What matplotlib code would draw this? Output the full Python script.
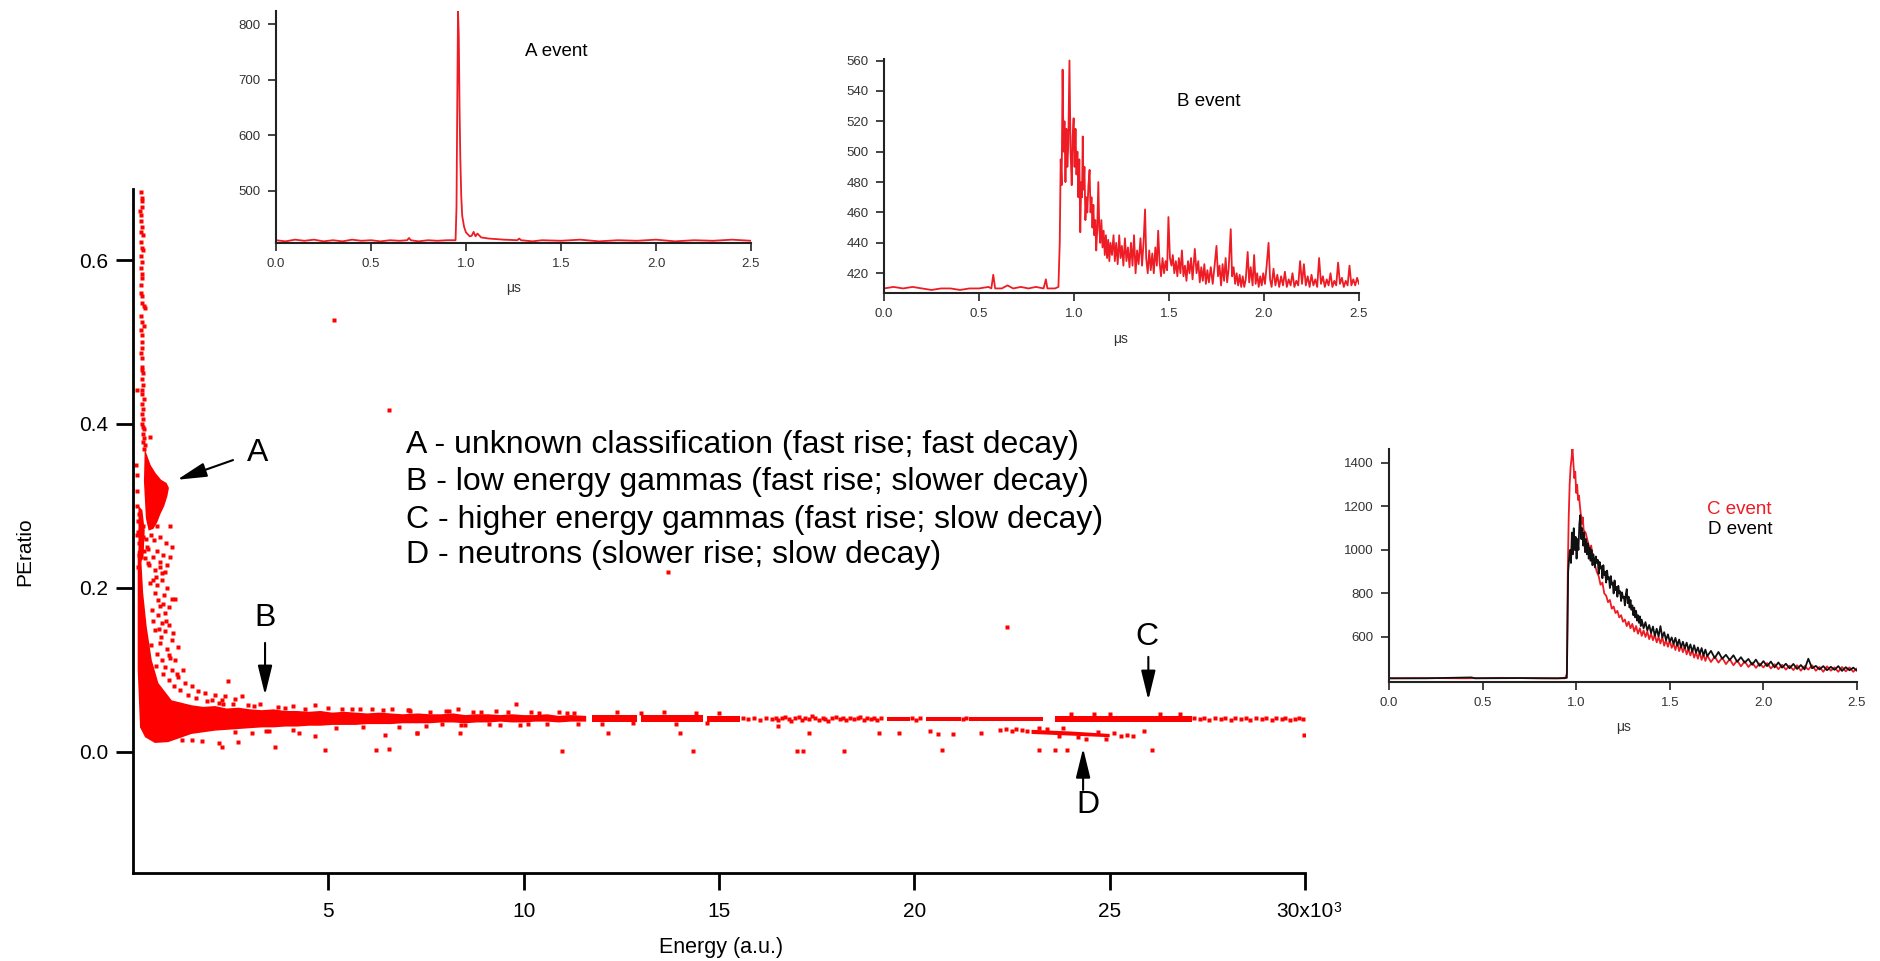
import matplotlib
matplotlib.use('Agg')
import matplotlib.pyplot as plt

plt.rcParams['font.family'] = ['Liberation Sans', 'DejaVu Sans']

W, H = 1881, 961

# ---- main scatter: energy in units of 10^3, PE ratio ----
# dense clouds read off as outlines
knee_x = [0.12, 0.20, 0.26, 0.35, 0.48, 0.65, 0.99, 1.5, 1.8, 2.1, 2.4, 2.7, 3.0, 3.3, 3.6, 3.9,
          4.2, 4.5, 4.8, 5.1, 5.4, 5.7, 6.0, 6.3, 6.6, 6.9, 7.3, 7.6, 7.9, 8.2, 8.5, 8.8, 9.1,
          9.4, 9.7, 10.0, 10.3, 10.6, 10.9, 11.2, 11.6,
          11.6, 11.2, 10.9, 10.6, 10.3, 10.0, 9.7, 9.4, 9.1, 8.8, 8.5, 8.2, 7.9, 7.6, 7.3, 6.9,
          6.6, 6.3, 6.0, 5.7, 5.4, 5.1, 4.8, 4.5, 4.2, 3.9, 3.6, 3.3, 3.0, 2.7, 2.4, 2.1, 1.8,
          1.5, 0.9, 0.56, 0.31, 0.18, 0.12]
knee_y = [0.245, 0.245, 0.194, 0.153, 0.112, 0.084, 0.063, 0.057, 0.055, 0.056, 0.053, 0.054,
          0.052, 0.051, 0.052, 0.050, 0.050, 0.049, 0.050, 0.048, 0.049, 0.048, 0.047, 0.048,
          0.047, 0.046, 0.047, 0.046, 0.046, 0.047, 0.045, 0.046, 0.046, 0.045, 0.046, 0.045,
          0.045, 0.046, 0.044, 0.045, 0.044,
          0.037, 0.037, 0.036, 0.037, 0.037, 0.036, 0.036, 0.037, 0.036, 0.036, 0.035, 0.036,
          0.036, 0.035, 0.035, 0.035, 0.034, 0.034, 0.034, 0.033, 0.033, 0.033, 0.032, 0.032,
          0.031, 0.031, 0.030, 0.030, 0.029, 0.028, 0.027, 0.026, 0.024, 0.022, 0.012, 0.011,
          0.018, 0.030, 0.100]
a_x = [0.30, 0.36, 0.45, 0.58, 0.72, 0.86, 0.92, 0.88, 0.80, 0.70, 0.62, 0.52, 0.40, 0.33, 0.28]
a_y = [0.370, 0.362, 0.350, 0.340, 0.332, 0.328, 0.322, 0.312, 0.300, 0.290, 0.280, 0.272, 0.270, 0.285, 0.330]
col_x = [0.14, 0.24, 0.30, 0.27, 0.20, 0.14]
col_y = [0.300, 0.295, 0.270, 0.240, 0.230, 0.235]
d_x = [23.0, 24.0, 25.0, 25.0, 24.0, 23.0]
d_y = [0.027, 0.025, 0.022, 0.018, 0.020, 0.022]
# continuous stretches of the gamma band: start, end, low, high
band_start = [11.75, 13.0, 14.7, 19.3, 20.3, 21.4, 23.6]
band_end = [12.9, 14.6, 15.55, 19.9, 21.2, 23.3, 27.1]
band_low = [0.037, 0.037, 0.037, 0.038, 0.038, 0.038, 0.037]
band_high = [0.045, 0.045, 0.044, 0.043, 0.043, 0.043, 0.044]

trail_x = [0.20, 0.22, 0.24, 0.19, 0.21, 0.20, 0.23, 0.21, 0.25, 0.20, 0.22, 0.21, 0.24, 0.20,
           0.22, 0.23, 0.21, 0.20, 0.24, 0.22, 0.27, 0.30, 0.21, 0.22, 0.21, 0.23, 0.22, 0.24,
           0.21, 0.23, 0.22, 0.25, 0.23, 0.26, 0.22, 0.24, 0.27, 0.23, 0.25, 0.22, 0.26, 0.24,
           0.27, 0.25, 0.28, 0.26, 0.30, 0.27, 0.43, 0.24, 0.26, 0.28, 0.23, 0.25,
           0.10, 0.08, 0.11, 0.09, 0.10, 0.12, 0.10]
trail_y = [0.683, 0.676, 0.672, 0.660, 0.655, 0.648, 0.640, 0.634, 0.630, 0.622, 0.615, 0.605,
           0.598, 0.590, 0.583, 0.578, 0.570, 0.560, 0.556, 0.548, 0.544, 0.541, 0.532, 0.525,
           0.515, 0.508, 0.500, 0.493, 0.486, 0.480, 0.470, 0.462, 0.455, 0.447, 0.442, 0.436,
           0.430, 0.424, 0.418, 0.412, 0.406, 0.400, 0.394, 0.388, 0.383, 0.378, 0.374, 0.370,
           0.384, 0.665, 0.612, 0.520, 0.466, 0.396,
           0.442, 0.350, 0.338, 0.318, 0.300, 0.282, 0.265]

spread_x = [0.39, 0.56, 0.69, 0.82, 0.44, 0.61, 0.74, 0.86, 0.56, 0.65, 0.99, 1.08, 0.78, 0.91,
            0.48, 0.65, 0.82, 0.74, 0.91, 0.56, 0.82, 0.99, 1.16, 0.69, 0.61, 0.91, 0.74, 1.08,
            0.82, 0.99, 1.29, 1.16, 0.91, 1.33, 1.50, 1.67, 1.85, 2.10, 2.36, 2.44, 2.79, 3.26,
            4.67, 5.35, 6.12, 6.63, 7.06, 2.02, 2.27, 2.62,
            1.25, 1.50, 1.76, 2.19, 2.27, 2.70, 3.04, 3.47, 3.64, 4.24, 4.67, 4.92, 6.21, 6.55,
            6.46, 7.27,
            0.14, 0.25, 0.45, 0.55, 0.70, 0.85, 0.20, 0.38, 0.62, 0.78, 0.95, 0.15, 0.30, 0.50,
            0.88, 0.68, 0.12, 0.42, 0.60, 0.75, 1.00, 0.95, 0.50, 0.62, 0.15, 0.17, 0.19, 0.16,
            0.18, 0.21, 0.26, 0.33, 0.35, 0.29, 0.52, 0.72, 0.47, 0.58,
            0.52, 0.71, 0.88, 0.47, 0.77, 0.60, 1.04, 0.85, 0.70, 0.52, 0.95, 1.12, 0.80, 0.66,
            1.20, 1.02, 1.40, 1.60, 1.90, 2.20, 2.55, 2.95, 3.70, 4.10, 5.00, 5.80,
            2.3, 3.1, 3.9, 4.4, 5.6, 6.4, 7.1, 8.0, 8.9, 9.6, 10.4, 11.1,
            2.6, 3.4, 4.1, 5.2, 5.9, 6.8, 7.5, 8.4, 9.4, 10.1, 11.4]
spread_y = [0.230, 0.222, 0.226, 0.220, 0.206, 0.204, 0.210, 0.200, 0.194, 0.185, 0.187, 0.186,
            0.181, 0.177, 0.173, 0.167, 0.169, 0.157, 0.155, 0.149, 0.147, 0.137, 0.128, 0.133,
            0.120, 0.118, 0.112, 0.112, 0.104, 0.100, 0.100, 0.092, 0.088, 0.084, 0.080, 0.074,
            0.072, 0.070, 0.068, 0.086, 0.068, 0.059, 0.057, 0.053, 0.052, 0.052, 0.051, 0.063,
            0.063, 0.065,
            0.015, 0.015, 0.013, 0.011, 0.006, 0.012, 0.023, 0.025, 0.006, 0.023, 0.019, 0.002,
            0.003, 0.004, 0.021, 0.023,
            0.268, 0.262, 0.265, 0.258, 0.262, 0.255, 0.250, 0.248, 0.245, 0.240, 0.238, 0.240,
            0.236, 0.238, 0.228, 0.232, 0.226, 0.228, 0.214, 0.218, 0.250, 0.275, 0.282, 0.276,
            0.290, 0.280, 0.270, 0.255, 0.245, 0.238, 0.275, 0.260, 0.250, 0.245, 0.300, 0.305,
            0.292, 0.296,
            0.160, 0.140, 0.125, 0.130, 0.095, 0.105, 0.080, 0.160, 0.178, 0.210, 0.115, 0.095,
            0.192, 0.150, 0.075, 0.145, 0.070, 0.066, 0.062, 0.060, 0.058, 0.057, 0.055, 0.056,
            0.054, 0.052,
            0.059, 0.056, 0.054, 0.053, 0.052, 0.051, 0.050, 0.050, 0.049, 0.049, 0.048, 0.048,
            0.024, 0.026, 0.027, 0.029, 0.030, 0.031, 0.032, 0.033, 0.033, 0.034, 0.034]

# dotted parts of the band and the faint neutron band ends
dots_x = [15.62, 15.75, 15.9, 16.05, 16.2, 16.35, 16.45, 16.52, 16.6, 16.7, 16.78, 16.85, 16.95,
          17.05, 17.12, 17.2, 17.3, 17.38, 17.45, 17.55, 17.65, 17.72, 17.8, 17.9, 18.0, 18.1,
          18.18, 18.25, 18.35, 18.45, 18.55, 18.62, 18.7, 18.8, 18.9, 18.98, 19.05, 19.15,
          19.95, 20.05, 20.15, 21.25, 21.33,
          27.15, 27.3, 27.42, 27.55, 27.7, 27.85, 27.95, 28.1, 28.2, 28.35, 28.5, 28.6, 28.75,
          28.9, 29.0, 29.15, 29.25, 29.4, 29.5, 29.62, 29.75, 29.85, 29.95,
          22.2, 22.35, 22.5, 22.6, 22.75, 22.88, 25.1, 25.3, 25.45,
          7.6, 8.1, 8.7, 9.3, 10.2, 10.9, 11.3, 12.4, 13.0, 13.6, 14.4, 15.0,
          7.9, 8.5, 9.1, 9.9, 10.6, 12.0, 12.8, 13.9, 14.7,
          24.0, 24.6, 25.0, 26.3, 26.8, 23.8, 24.4, 23.4, 24.9, 23.2, 23.7, 24.2, 24.7]
dots_y = [0.041, 0.040, 0.042, 0.039, 0.041, 0.040, 0.042, 0.039, 0.041, 0.043, 0.040, 0.038,
          0.041, 0.043, 0.039, 0.041, 0.040, 0.044, 0.041, 0.039, 0.042, 0.040, 0.038, 0.041,
          0.043, 0.040, 0.041, 0.039, 0.042, 0.040, 0.041, 0.043, 0.039, 0.041, 0.040, 0.042,
          0.039, 0.041,
          0.041, 0.039, 0.042, 0.040, 0.042,
          0.041, 0.040, 0.042, 0.039, 0.041, 0.040, 0.042, 0.039, 0.041, 0.040, 0.042, 0.039,
          0.041, 0.040, 0.042, 0.039, 0.041, 0.040, 0.042, 0.039, 0.040, 0.041, 0.040,
          0.027, 0.028, 0.026, 0.028, 0.027, 0.025, 0.023, 0.020, 0.021,
          0.049, 0.050, 0.049, 0.050, 0.049, 0.049, 0.048, 0.049, 0.048, 0.049, 0.048, 0.048,
          0.034, 0.033, 0.034, 0.033, 0.034, 0.034, 0.035, 0.034, 0.035,
          0.046, 0.046, 0.046, 0.046, 0.046, 0.029, 0.016, 0.028, 0.016, 0.029, 0.019, 0.018,
          0.024]

outlier_x = [5.15, 6.55, 13.7, 22.37, 9.8, 7.05, 8.33, 7.26, 8.38, 12.15, 14.0, 16.5, 17.3, 19.1,
             10.97, 14.33, 17.0, 17.15, 18.2, 19.6, 20.4, 20.6, 21.0, 21.7, 29.98, 25.89, 25.6,
             20.7, 23.2, 23.6, 23.9, 26.08]
outlier_y = [0.527, 0.417, 0.219, 0.153, 0.059, 0.051, 0.052, 0.023, 0.023, 0.023, 0.023, 0.032,
             0.023, 0.023, 0.001, 0.001, 0.001, 0.001, 0.001, 0.023, 0.026, 0.022, 0.022, 0.023,
             0.021, 0.025, 0.019, 0.002, 0.002, 0.002, 0.002, 0.002]

# ---- waveforms (time in us, amplitude) ----
a_event = [(0.0, 411), (0.05, 409), (0.1, 412), (0.15, 410), (0.2, 412), (0.25, 409), (0.3, 411),
           (0.35, 409), (0.4, 412), (0.45, 410), (0.5, 411), (0.55, 409), (0.6, 411), (0.65, 410),
           (0.69, 411), (0.70, 415), (0.71, 411), (0.75, 409), (0.8, 411), (0.85, 410), (0.9, 411),
           (0.945, 411), (0.95, 470), (0.955, 700), (0.958, 824), (0.962, 780), (0.966, 650),
           (0.97, 560), (0.975, 490), (0.98, 455), (0.99, 435), (1.0, 425), (1.02, 418), (1.03, 419),
           (1.04, 426), (1.05, 418), (1.06, 423), (1.08, 416), (1.12, 414), (1.2, 412), (1.27, 411),
           (1.28, 414), (1.29, 411), (1.35, 409), (1.4, 411), (1.5, 410), (1.6, 412), (1.7, 409),
           (1.8, 411), (1.9, 410), (2.0, 412), (2.1, 409), (2.2, 411), (2.3, 410), (2.4, 412), (2.5, 410)]

b_event = [(0.0, 410), (0.05, 411), (0.1, 410), (0.15, 411), (0.2, 410), (0.25, 409), (0.3, 410),
           (0.35, 410), (0.4, 409), (0.45, 410), (0.5, 410), (0.55, 411), (0.565, 410), (0.575, 419),
           (0.585, 410), (0.62, 410), (0.65, 412), (0.68, 410), (0.72, 411), (0.76, 410), (0.8, 411),
           (0.84, 410), (0.852, 416), (0.86, 410), (0.9, 410), (0.918, 411), (0.925, 440), (0.93, 495),
           (0.935, 478), (0.94, 554), (0.945, 500), (0.95, 520), (0.955, 480), (0.96, 515), (0.965, 490),
           (0.97, 505), (0.976, 560), (0.982, 500), (0.988, 478), (0.993, 510), (0.998, 522),
           (1.003, 490), (1.008, 515), (1.013, 485), (1.018, 500), (1.023, 470), (1.028, 495),
           (1.033, 447), (1.038, 480), (1.042, 470), (1.046, 510), (1.05, 475), (1.055, 490),
           (1.06, 455), (1.065, 470), (1.07, 460), (1.076, 478), (1.082, 488), (1.087, 460),
           (1.092, 470), (1.097, 450), (1.102, 465), (1.107, 445), (1.112, 455), (1.117, 435),
           (1.122, 448), (1.128, 480), (1.133, 450), (1.138, 440), (1.144, 455), (1.15, 437),
           (1.156, 448), (1.162, 432), (1.168, 445), (1.174, 430), (1.18, 442), (1.186, 428),
           (1.192, 440), (1.2, 432), (1.208, 445), (1.215, 428), (1.222, 440), (1.23, 426),
           (1.238, 445), (1.245, 430), (1.252, 438), (1.26, 425), (1.268, 443), (1.276, 428),
           (1.284, 437), (1.292, 424), (1.3, 440), (1.308, 425), (1.316, 445), (1.324, 420),
           (1.332, 435), (1.34, 426), (1.35, 443), (1.358, 425), (1.366, 440), (1.374, 462),
           (1.38, 430), (1.388, 420), (1.396, 435), (1.404, 422), (1.412, 433), (1.42, 420),
           (1.428, 437), (1.436, 425), (1.443, 448), (1.45, 428), (1.458, 418), (1.466, 430),
           (1.474, 420), (1.482, 428), (1.49, 422), (1.497, 457), (1.505, 430), (1.513, 425),
           (1.52, 432), (1.528, 420), (1.536, 428), (1.544, 418), (1.552, 430), (1.56, 420),
           (1.568, 435), (1.576, 418), (1.584, 425), (1.592, 415), (1.6, 428), (1.608, 420),
           (1.616, 430), (1.624, 416), (1.636, 436), (1.645, 420), (1.654, 428), (1.662, 414),
           (1.67, 424), (1.678, 415), (1.686, 426), (1.694, 413), (1.702, 422), (1.71, 414),
           (1.72, 424), (1.73, 413), (1.74, 425), (1.75, 438), (1.758, 418), (1.766, 425),
           (1.774, 412), (1.782, 426), (1.79, 415), (1.798, 430), (1.806, 414), (1.814, 423),
           (1.825, 449), (1.832, 418), (1.84, 424), (1.848, 413), (1.856, 420), (1.864, 412),
           (1.872, 419), (1.88, 411), (1.888, 418), (1.896, 411), (1.904, 416), (1.914, 434),
           (1.922, 414), (1.93, 424), (1.94, 412), (1.948, 432), (1.956, 413), (1.964, 420),
           (1.972, 411), (1.98, 418), (1.988, 412), (1.996, 420), (2.005, 413), (2.014, 425),
           (2.024, 440), (2.032, 416), (2.04, 411), (2.05, 423), (2.06, 412), (2.07, 419),
           (2.08, 411), (2.09, 418), (2.1, 412), (2.11, 421), (2.12, 411), (2.13, 416), (2.14, 412),
           (2.15, 420), (2.16, 411), (2.17, 415), (2.18, 412), (2.19, 428), (2.2, 413), (2.21, 426),
           (2.22, 412), (2.23, 418), (2.24, 411), (2.25, 419), (2.26, 412), (2.27, 416), (2.28, 411),
           (2.29, 430), (2.3, 413), (2.31, 418), (2.32, 411), (2.33, 416), (2.34, 412), (2.35, 420),
           (2.36, 411), (2.37, 415), (2.38, 412), (2.39, 427), (2.4, 413), (2.41, 417), (2.42, 411),
           (2.43, 415), (2.44, 412), (2.45, 425), (2.46, 412), (2.47, 416), (2.48, 412), (2.49, 417),
           (2.5, 413)]

c_event = [(0.0, 410), (0.2, 411), (0.4, 410), (0.6, 412), (0.8, 410), (0.94, 410), (0.95, 430),
           (0.955, 900), (0.96, 1150), (0.965, 1300), (0.97, 1380), (0.975, 1420), (0.98, 1469),
           (0.985, 1400), (0.99, 1330), (0.995, 1360), (1.0, 1262), (1.005, 1300), (1.01, 1230),
           (1.015, 1250), (1.02, 1200), (1.03, 1120), (1.035, 1150), (1.04, 1090), (1.05, 1080),
           (1.06, 1046), (1.07, 1010), (1.08, 1020), (1.09, 960), (1.1, 930), (1.11, 900), (1.12, 880),
           (1.13, 840), (1.14, 850), (1.15, 800), (1.16, 790), (1.17, 760), (1.18, 770), (1.19, 730),
           (1.2, 740), (1.21, 710), (1.22, 720), (1.23, 690), (1.24, 700), (1.25, 670), (1.26, 680),
           (1.27, 650), (1.28, 670), (1.29, 640), (1.3, 660), (1.31, 625), (1.32, 650), (1.33, 615),
           (1.34, 640), (1.35, 605), (1.36, 630), (1.37, 600), (1.38, 625), (1.39, 590), (1.4, 615),
           (1.41, 585), (1.42, 610), (1.43, 575), (1.44, 600), (1.45, 570), (1.46, 600), (1.47, 560),
           (1.48, 585), (1.49, 555), (1.5, 585), (1.51, 550), (1.52, 570), (1.53, 540), (1.54, 575),
           (1.55, 535), (1.56, 560), (1.57, 530), (1.58, 555), (1.59, 520), (1.6, 545), (1.61, 515),
           (1.62, 540), (1.63, 505), (1.64, 530), (1.65, 500), (1.66, 530), (1.67, 495), (1.68, 520),
           (1.69, 490), (1.7, 515), (1.72, 485), (1.74, 510), (1.76, 482), (1.78, 505), (1.8, 475),
           (1.82, 498), (1.84, 470), (1.86, 492), (1.88, 465), (1.9, 488), (1.92, 462), (1.94, 482),
           (1.96, 458), (1.98, 478), (2.0, 460), (2.02, 480), (2.04, 455), (2.06, 475), (2.08, 452),
           (2.1, 472), (2.12, 450), (2.14, 468), (2.16, 448), (2.18, 470), (2.2, 445), (2.22, 466),
           (2.24, 450), (2.26, 470), (2.28, 445), (2.3, 462), (2.32, 440), (2.34, 465), (2.36, 445),
           (2.38, 460), (2.4, 440), (2.42, 462), (2.44, 442), (2.46, 460), (2.48, 440), (2.5, 455)]

d_event = [(0.0, 410), (0.2, 410), (0.44, 414), (0.46, 410), (0.7, 411), (0.9, 410), (0.95, 412),
           (0.953, 600), (0.957, 900), (0.962, 960), (0.967, 1000), (0.972, 940), (0.977, 1080),
           (0.982, 980), (0.987, 1100), (0.992, 1000), (0.997, 1060), (1.002, 960), (1.007, 1050),
           (1.012, 1000), (1.017, 1120), (1.022, 1160), (1.027, 1050), (1.032, 1100), (1.037, 1020),
           (1.042, 1080), (1.047, 990), (1.052, 1050), (1.057, 980), (1.062, 1030), (1.067, 960),
           (1.072, 1010), (1.077, 950), (1.082, 1000), (1.087, 930), (1.092, 980), (1.1, 920),
           (1.105, 970), (1.11, 940), (1.115, 955), (1.12, 890), (1.125, 945), (1.13, 915),
           (1.135, 925), (1.14, 870), (1.145, 930), (1.15, 885), (1.155, 900), (1.16, 850),
           (1.165, 905), (1.17, 865), (1.175, 875), (1.18, 825), (1.185, 880), (1.19, 840),
           (1.195, 850), (1.2, 800), (1.205, 860), (1.21, 815), (1.215, 830), (1.22, 785),
           (1.225, 835), (1.23, 800), (1.235, 810), (1.24, 765), (1.245, 805), (1.25, 780),
           (1.255, 785), (1.26, 745), (1.265, 795), (1.27, 820), (1.275, 755), (1.28, 785),
           (1.285, 735), (1.29, 770), (1.295, 725), (1.3, 745), (1.305, 700), (1.31, 735),
           (1.315, 690), (1.32, 720), (1.325, 675), (1.33, 700), (1.335, 665), (1.34, 695),
           (1.345, 650), (1.35, 680), (1.36, 640), (1.37, 668), (1.38, 630), (1.39, 655), (1.4, 618),
           (1.41, 648), (1.42, 605), (1.43, 638), (1.44, 602), (1.45, 650), (1.46, 598), (1.47, 622),
           (1.48, 585), (1.49, 612), (1.5, 578), (1.51, 598), (1.52, 568), (1.53, 596), (1.54, 560),
           (1.55, 588), (1.56, 552), (1.57, 578), (1.58, 548), (1.59, 574), (1.6, 540), (1.61, 566),
           (1.62, 532), (1.63, 562), (1.64, 528), (1.65, 552), (1.66, 522), (1.67, 549), (1.68, 514),
           (1.69, 542), (1.7, 512), (1.72, 536), (1.74, 503), (1.76, 531), (1.78, 500), (1.8, 518),
           (1.82, 494), (1.84, 516), (1.86, 486), (1.88, 507), (1.9, 482), (1.92, 499), (1.94, 472),
           (1.96, 496), (1.98, 467), (2.0, 489), (2.02, 466), (2.04, 487), (2.06, 460), (2.08, 483),
           (2.1, 459), (2.12, 477), (2.14, 456), (2.16, 476), (2.18, 453), (2.2, 471), (2.22, 451),
           (2.24, 500), (2.26, 456), (2.28, 467), (2.3, 451), (2.32, 466), (2.34, 447), (2.36, 463),
           (2.38, 449), (2.4, 466), (2.42, 444), (2.44, 461), (2.46, 447), (2.48, 459), (2.5, 445)]

legend_lines = ['A - unknown classification (fast rise; fast decay)',
                'B - low energy gammas (fast rise; slower decay)',
                'C - higher energy gammas (fast rise; slow decay)',
                'D - neutrons (slower rise; slow decay)']


def rect(left, top, right, bottom):
    return [left / W, 1 - bottom / H, (right - left) / W, (bottom - top) / H]


fig = plt.figure(figsize=(W / 100, H / 100), dpi=100)

# main scatter
ax = fig.add_axes(rect(133, 189, 1305, 873))
red = '#ff0000'
for px, py in [(knee_x, knee_y), (a_x, a_y), (col_x, col_y), (d_x, d_y)]:
    ax.fill(px, py, color=red, lw=0)
for x0, x1, lo, hi in zip(band_start, band_end, band_low, band_high):
    ax.fill_between([x0, x1], [lo, lo], [hi, hi], color=red, lw=0)
for xs, ys in [(trail_x, trail_y), (spread_x, spread_y), (dots_x, dots_y), (outlier_x, outlier_y)]:
    ax.plot(xs, ys, 's', ms=2.3, color=red, mec='none')

ax.set_xlim(0, 30)
ax.set_ylim(-0.1476, 0.6866)
for s in ['top', 'right']:
    ax.spines[s].set_visible(False)
for s in ['left', 'bottom']:
    ax.spines[s].set_linewidth(2)
ax.set_xticks([5, 10, 15, 20, 25, 30])
ax.set_xticklabels(['5', '10', '15', '20', '25', '30x10'])
ax.set_yticks([0.0, 0.2, 0.4, 0.6])
ax.set_yticklabels(['0.0', '0.2', '0.4', '0.6'])
ax.tick_params(direction='out', length=12, width=2, labelsize=15)
ax.tick_params(axis='x', pad=9)
ax.tick_params(axis='y', pad=6)
ax.annotate('3', xy=(30, 0), xycoords=('data', 'axes fraction'), xytext=(32, -35),
            textcoords='offset pixels', fontsize=10, ha='center', va='center')
fig.text(25 / W, 1 - 552 / H, 'PEratio', rotation=90, fontsize=15, ha='center', va='center')
fig.text(721 / W, 1 - 947 / H, 'Energy (a.u.)', fontsize=15.5, ha='center', va='center')

arrow = dict(arrowstyle='-|>,head_length=0.9,head_width=0.22', mutation_scale=20,
             lw=1.5, color='black', shrinkA=0, shrinkB=0)
ax.annotate('', xy=(1.13, 0.332), xytext=(2.56, 0.356), arrowprops=arrow)
ax.annotate('', xy=(3.38, 0.0695), xytext=(3.38, 0.133), arrowprops=arrow)
ax.annotate('', xy=(25.99, 0.0634), xytext=(25.99, 0.116), arrowprops=arrow)
ax.annotate('', xy=(24.32, 0.0045), xytext=(24.32, -0.0463), arrowprops=arrow)
for lab, lx, ly in [('A', 3.2, 0.365), ('B', 3.38, 0.163), ('C', 25.96, 0.1406), ('D', 24.44, -0.0646)]:
    ax.text(lx, ly, lab, fontsize=23, ha='center', va='center')

for line, base in zip(legend_lines, [453, 490, 528, 563]):
    fig.text(406 / W, 1 - base / H, line, fontsize=23, ha='left', va='baseline')


# waveform insets
def inset(box, ylim, yticks, series, mu_pos):
    iax = fig.add_axes(rect(*box))
    iax.patch.set_alpha(0)
    for data, col in series:
        t = [p[0] for p in data]
        v = [p[1] for p in data]
        iax.plot(t, v, color=col, lw=1.3)
    iax.set_xlim(0, 2.5)
    iax.set_ylim(*ylim)
    iax.set_xticks([0.0, 0.5, 1.0, 1.5, 2.0, 2.5])
    iax.set_xticklabels(['0.0', '0.5', '1.0', '1.5', '2.0', '2.5'])
    iax.set_yticks(yticks)
    for s in ['top', 'right']:
        iax.spines[s].set_visible(False)
    for s in ['left', 'bottom']:
        iax.spines[s].set_linewidth(1.5)
        iax.spines[s].set_color('#222222')
    iax.tick_params(direction='out', length=6, width=1.2, labelsize=9.5,
                    colors='#222222', labelcolor='#333333', pad=5)
    fig.text(mu_pos[0] / W, 1 - mu_pos[1] / H, 'μs', fontsize=10, color='#333333',
             ha='center', va='center')
    return iax


inset((276, 11, 751, 243), (406, 824), [500, 600, 700, 800], [(a_event, '#ee1c24')], (514, 288))
inset((884, 59, 1359, 293), (407, 561), [420, 440, 460, 480, 500, 520, 540, 560],
      [(b_event, '#ee1c24')], (1121, 339))
inset((1389, 449, 1857, 682), (393, 1464), [600, 800, 1000, 1200, 1400],
      [(c_event, '#ee1c24'), (d_event, '#111111')], (1624, 727))

fig.text(556 / W, 1 - 52 / H, 'A event', fontsize=13.5, ha='center', va='center')
fig.text(1209 / W, 1 - 101 / H, 'B event', fontsize=13.5, ha='center', va='center')
fig.text(1739 / W, 1 - 509 / H, 'C event', fontsize=13.5, color='#ee1c24', ha='center', va='center')
fig.text(1740 / W, 1 - 529 / H, 'D event', fontsize=13.5, ha='center', va='center')

fig.savefig('out.png', dpi=100)
